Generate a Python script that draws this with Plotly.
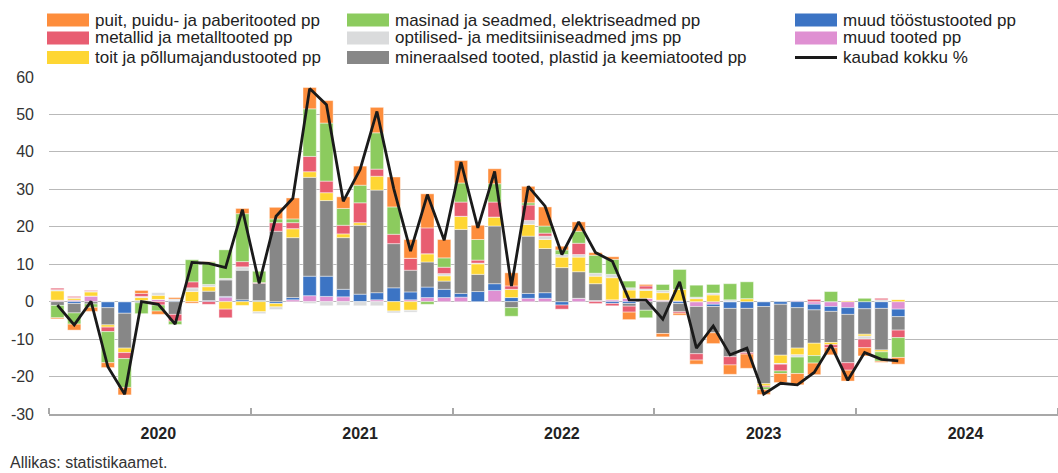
import plotly.graph_objects as go

# ---------------- data ----------------
months = ["2020-01","2020-02","2020-03","2020-04","2020-05","2020-06","2020-07","2020-08","2020-09","2020-10","2020-11","2020-12",
          "2021-01","2021-02","2021-03","2021-04","2021-05","2021-06","2021-07","2021-08","2021-09","2021-10","2021-11","2021-12",
          "2022-01","2022-02","2022-03","2022-04","2022-05","2022-06","2022-07","2022-08","2022-09","2022-10","2022-11","2022-12",
          "2023-01","2023-02","2023-03","2023-04","2023-05","2023-06","2023-07","2023-08","2023-09","2023-10","2023-11","2023-12",
          "2024-01","2024-02","2024-03"]
years = ["2020", "2021", "2022", "2023", "2024"]
y_ticks = [-30, -20, -10, 0, 10, 20, 30, 40, 50, 60]

muud_tooted = [0.4,0.4,1.5,0,0,0,0.6,0,0,0,1.2,0,0,0,0.5,1.6,1.4,1.3,0,0.5,0,0.5,1.1,1.1,1.2,0,3.0,0,0.9,0.9,0,0.9,0.3,0.5,0.9,0.9,0.4,0.2,-1.3,-0.7,0,0,0,0,0.3,-0.7,-1.3,-1.6,0,0,-2.0]
muud_toostus = [0,-0.5,0,-1.6,-3.1,0.3,0,0.3,0,0.3,0.2,0.5,0.3,-0.5,0.6,5.2,5.4,2.0,2.0,1.9,3.7,2.1,2.8,2.2,1.0,2.7,1.8,1.1,1.3,1.5,-0.9,0,0,-0.5,-0.5,0,0,-0.5,0,-0.6,-1.8,-1.8,-1.3,-0.7,-1.6,-1.5,-1.3,-1.8,-1.9,-1.8,-2.0]
mineraalsed = [-1.0,-2.5,-0.6,-4.6,-9.3,-0.3,0,-3.4,0,2.5,4.4,7.9,4.6,18.8,16.0,26.4,20.2,13.8,18.4,27.4,11.8,5.8,6.7,2.2,17.1,4.6,15.4,-1.6,15.3,11.8,9.1,7.1,4.5,0,-0.7,-2.3,-8.5,-2.2,-12.6,-7.0,-12.9,-11.8,-20.6,-13.6,-10.8,-8.9,-8.3,-12.9,-6.8,-11.1,-3.6]
toit = [2.5,0.5,1.1,-0.6,-1.2,0.8,1.1,0,2.7,1.2,-2.0,-1.0,-2.7,-0.9,2.4,1.5,2.1,1.0,0.7,3.7,-2.5,-2.3,2.2,1.4,3.5,2.8,2.4,2.2,3.1,2.4,2.8,3.9,2.0,5.9,2.2,2.1,2.0,3.1,0.8,1.8,0,0.8,-0.6,-2.2,-1.8,-3.3,-0.6,0.3,-0.5,-0.5,0.6]
optilised = [0.3,0.2,0.2,0,0,0.3,0.7,0.4,1.0,0.6,0.4,0.9,-0.5,-0.7,0,-0.5,-1.1,-1.0,-1.1,-1.1,-0.5,-0.5,0,0.6,0,0.2,0,0,1.1,0.9,0.7,0.7,0.8,0.9,0.6,0.4,0.6,0,0.4,0.5,0.5,0,0,-0.2,-0.6,0,0,0,-0.8,0.5,0]
metallid = [0.4,0.3,0.2,-1.2,-1.6,0.8,-0.9,-1.8,1.6,-0.7,-2.3,1.4,0.2,2.3,1.6,4.1,3.1,2.3,5.3,1.9,2.5,3.2,6.9,1.7,3.8,0.8,4.0,0.9,4.1,0.8,-1.1,3.0,-0.5,-0.6,-1.6,0.8,0,-0.4,-1.7,0,-2.2,-0.4,-0.3,-1.8,0,0.6,-0.8,-2.0,-2.3,0.4,-2.0]
masinad = [-3.3,-3.0,-0.9,-8.3,-7.7,-2.9,-1.6,-0.9,5.9,6.0,7.7,12.8,3.1,1.0,1.0,12.7,15.5,4.5,4.7,9.7,7.3,0,-0.7,2.5,5.1,5.5,4.9,-2.3,0.6,1.9,1.2,3.2,4.8,4.0,1.8,-2.0,1.6,5.3,3.2,2.3,4.3,4.5,-0.7,-0.7,-4.4,-2.0,2.7,0,0.9,-2.5,-5.3]
puit = [-0.3,-1.6,-1.1,-1.3,-2.0,0.8,-0.9,0.4,-0.4,0.1,0,1.4,0,3.1,5.6,5.7,6.0,3.1,5.1,6.8,8.0,5.0,9.1,4.9,6.0,3.8,4.0,3.5,4.4,5.1,1.0,2.5,0.7,0.7,-2.0,0.4,-0.9,-0.5,-1.1,-2.9,-2.5,-3.8,-1.3,-2.4,-3.0,-3.1,-1.9,-2.9,-2.2,-0.3,-1.8]
kokku = [-0.9,-6.2,0.1,-17.4,-24.7,0.0,-0.7,-6.0,10.5,10.2,9.1,24.6,4.9,22.8,27.6,56.9,52.6,26.8,35.3,50.8,30.2,13.5,28.6,16.4,37.3,19.7,34.8,4.2,30.8,25.5,12.6,21.3,13.1,10.8,0.5,0.4,-4.7,5.3,-12.4,-6.5,-14.2,-12.4,-24.7,-21.8,-22.2,-18.9,-11.6,-21.0,-13.6,-15.4,-15.8]

names = {
    "puit": "puit, puidu- ja paberitooted pp",
    "metallid": "metallid ja metalltooted pp",
    "toit": "toit ja põllumajandustooted pp",
    "masinad": "masinad ja seadmed, elektriseadmed pp",
    "optilised": "optilised- ja meditsiiniseadmed jms pp",
    "mineraalsed": "mineraalsed tooted, plastid ja keemiatooted pp",
    "muud_toostus": "muud tööstustooted pp",
    "muud_tooted": "muud tooted pp",
    "kokku": "kaubad kokku %",
}
colors = {
    "puit": "#FD8D3C",
    "metallid": "#E85D71",
    "toit": "#FED633",
    "masinad": "#8CCB5E",
    "optilised": "#DADBDC",
    "mineraalsed": "#878787",
    "muud_toostus": "#3C74C4",
    "muud_tooted": "#DF90D2",
    "kokku": "#1a1a1a",
}
series = {
    "muud_tooted": muud_tooted,
    "muud_toostus": muud_toostus,
    "mineraalsed": mineraalsed,
    "toit": toit,
    "optilised": optilised,
    "metallid": metallid,
    "masinad": masinad,
    "puit": puit,
}

x = list(range(len(months)))
FONT = "Liberation Sans, Arial, Helvetica, sans-serif"

fig = go.Figure()
for key, vals in series.items():
    fig.add_trace(go.Bar(
        x=x, y=vals, name=names[key], customdata=months,
        marker=dict(color=colors[key], line=dict(color="rgba(255,255,255,0.55)", width=0.8)),
        showlegend=False,
        hovertemplate="%{customdata}: %{y}<extra>" + names[key] + "</extra>",
    ))
fig.add_trace(go.Scatter(
    x=x, y=kokku, name=names["kokku"], mode="lines", customdata=months,
    line=dict(color=colors["kokku"], width=2.8),
    showlegend=False,
))

# ---------------- layout ----------------
W, H = 1058, 473
ML, MR, MT, MB = 49, 0, 77, 59
PW, PH = W - ML - MR, H - MT - MB

def px(xp):
    return (xp - ML) / PW

def py(yp):
    return (H - MB - yp) / PH

fig.update_layout(
    width=W, height=H,
    margin=dict(l=ML, r=MR, t=MT, b=MB, pad=0),
    paper_bgcolor="white", plot_bgcolor="white",
    barmode="relative", bargap=0.21,
    font=dict(family=FONT, size=16, color="#333333"),
    showlegend=False,
    xaxis=dict(
        range=[-0.5, 59.5],
        tickmode="array", tickvals=[6, 18, 30, 42, 54],
        ticktext=["<b>" + y + "</b>" for y in years],
        ticks="", showgrid=False, zeroline=False,
        showline=True, linecolor="#a8a8a8", linewidth=1.5,
        tickfont=dict(family=FONT, size=16, color="#222222"),
        ticklabelstandoff=4,
        minor=dict(tickmode="array", tickvals=[-0.5, 11.5, 23.5, 35.5, 47.5, 59.5],
                   ticks="inside", ticklen=6, tickwidth=1.5, tickcolor="#a8a8a8", showgrid=False),
    ),
    yaxis=dict(
        range=[-30, 60], tickmode="array", tickvals=y_ticks,
        ticktext=[str(v) for v in y_ticks],
        showgrid=True, gridcolor="#b9b9b9", gridwidth=1.3,
        zeroline=False, showline=False, ticks="",
        tickfont=dict(family=FONT, size=16, color="#333333"),
        ticklabelstandoff=14,
    ),
)

# ---------------- manual legend (3 columns) ----------------
legend_cols = [
    ["puit", "metallid", "toit"],
    ["masinad", "optilised", "mineraalsed"],
    ["muud_toostus", "muud_tooted", "kokku"],
]
col_x = [47, 347, 795]
row_y = [20, 38, 57.5]
sw_w, sw_h = 42, 13
shapes = []
annotations = []
for ci, col in enumerate(legend_cols):
    for ri, key in enumerate(col):
        x0 = col_x[ci]
        yc = row_y[ri]
        if key == "kokku":
            shapes.append(dict(type="line", xref="paper", yref="paper",
                               x0=px(x0), x1=px(x0 + sw_w), y0=py(yc), y1=py(yc),
                               line=dict(color=colors[key], width=3)))
        else:
            shapes.append(dict(type="rect", xref="paper", yref="paper",
                               x0=px(x0), x1=px(x0 + sw_w), y0=py(yc - sw_h / 2), y1=py(yc + sw_h / 2),
                               fillcolor=colors[key], line=dict(width=0)))
        annotations.append(dict(xref="paper", yref="paper", x=px(x0 + sw_w + 4), y=py(yc),
                                xanchor="left", yanchor="middle", showarrow=False,
                                text=names[key], font=dict(family=FONT, size=17, color="#222222")))

annotations.append(dict(xref="paper", yref="paper", x=px(8), y=py(473), xanchor="left", yanchor="bottom",
                        showarrow=False, text="Allikas: statistikaamet.",
                        font=dict(family=FONT, size=16, color="#333333")))

fig.update_layout(shapes=shapes, annotations=annotations)

fig.write_html("out.html", config={"displayModeBar": False},
               post_script="document.body.style.margin='0';document.body.style.overflow='hidden';")
